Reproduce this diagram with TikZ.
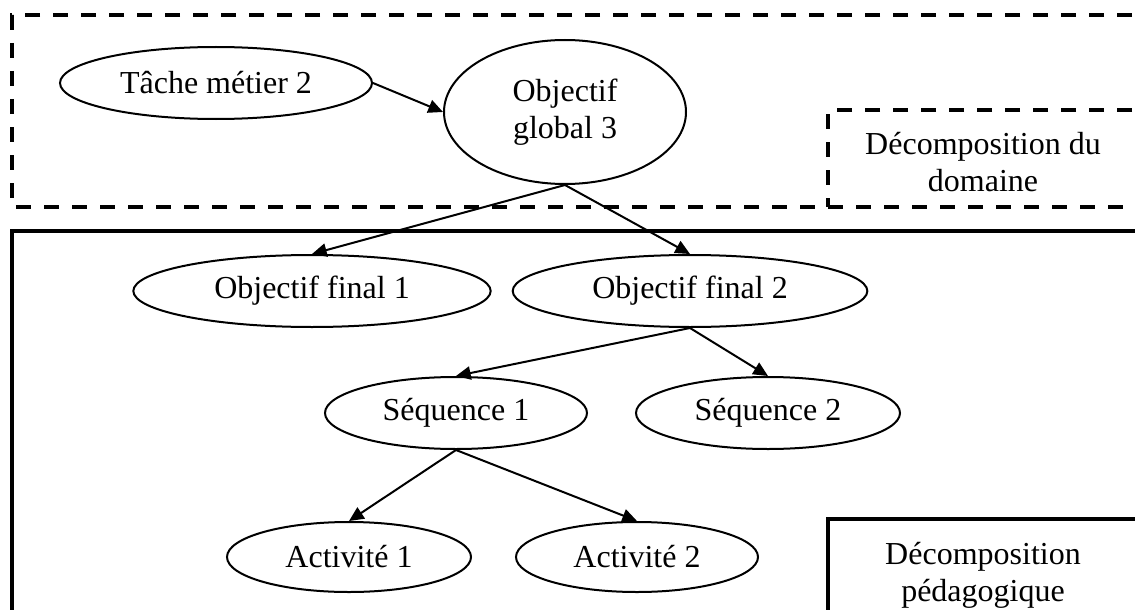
\documentclass[tikz,border=0pt]{standalone}
\usepackage{fontspec}
\setmainfont{Liberation Serif}
\usetikzlibrary{shapes.geometric, arrows.meta, positioning}

\begin{document}
\begin{tikzpicture}[
  x=0.75pt, y=-0.75pt,
  font=\fontsize{24}{27.75}\selectfont,
  ell/.style={draw, ellipse, line width=1.5pt, inner sep=0pt, minimum height=54pt, align=center},
  arr/.style={-{Triangle[length=11pt, width=10pt]}, line width=1.5pt},
  zone/.style={line width=3pt},
  zonedash/.style={zone, dash pattern=on 11.25pt off 9.75pt},
  lbl/.style={align=center}]
\clip (0,0) rectangle (1135,610);
% zones
\draw[zonedash] (1160,15) -- (12,15) -- (12,207) -- (1160,207);
\draw[zonedash] (1160,110) -- (828,110) -- (828,207);
\draw[zone] (1160,231) -- (12,231) -- (12,640);
\draw[zone] (1160,519) -- (828,519) -- (828,640);
\node[lbl] (domaine) at (983,162) {Décomposition du\\domaine};
\node[lbl] (pedago) at (983,575) {Décomposition\\pédagogique};
% domaine
\node[ell, minimum width=234pt] (tache) at (216,83) {Tâche métier 2};
\node[ell, minimum width=181.5pt, minimum height=108pt] (global) at (565,112) {Objectif\\global 3};
% pedagogie
\node[ell, minimum width=268pt] (final1) at (312,291) {Objectif final 1};
\node[ell, minimum width=266pt] (final2) at (690,291) {Objectif final 2};
\node[ell, minimum width=196.5pt] (seq1) at (456,413) {Séquence 1};
\node[ell, minimum width=198pt] (seq2) at (768,413) {Séquence 2};
\node[ell, minimum width=183pt, minimum height=52.5pt] (act1) at (349,557) {Activité 1};
\node[ell, minimum width=181.5pt, minimum height=52.5pt] (act2) at (637,557) {Activité 2};
\draw[arr] (tache.east) -- (global.west);
\draw[arr] (global.south) -- (final1.north);
\draw[arr] (global.south) -- (final2.north);
\draw[arr] (final2.south) -- (seq1.north);
\draw[arr] (final2.south) -- (seq2.north);
\draw[arr] (seq1.south) -- (act1.north);
\draw[arr] (seq1.south) -- (act2.north);
\end{tikzpicture}
\end{document}
